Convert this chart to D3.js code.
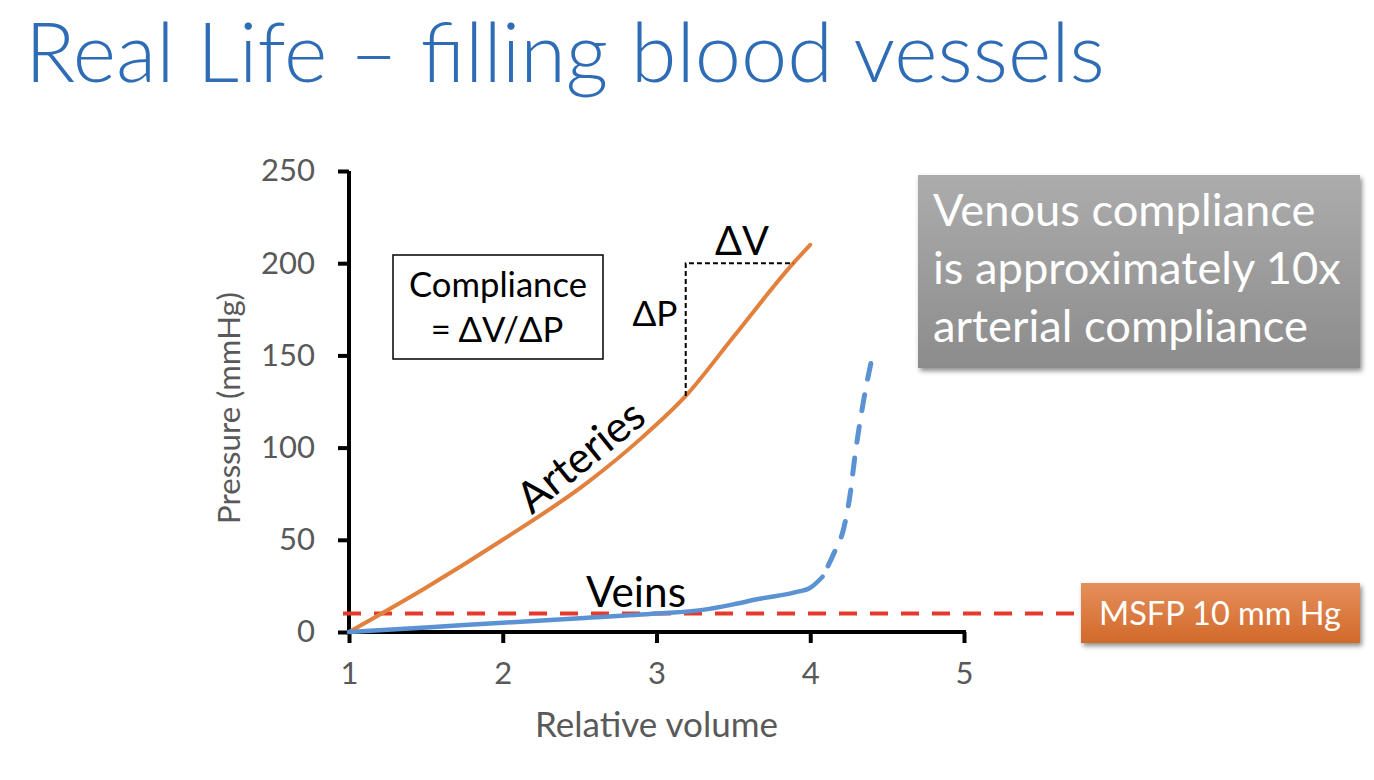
<!DOCTYPE html>
<html>
<head>
<meta charset="utf-8">
<script src="https://cdn.jsdelivr.net/npm/d3@7"></script>
<style>
  html, body { margin: 0; padding: 0; background: #fff; }
  svg { display: block; font-family: Lato, "Open Sans", sans-serif; }
</style>
</head>
<body>
<svg id="main" width="1374" height="780"></svg>
<script>
const width = 1374;
const height = 780;

// ---- data ----
const xTicks = [1, 2, 3, 4, 5];
const yTicks = [0, 50, 100, 150, 200, 250];

const arteries = [
    [1.0, 0], [1.5, 24], [2.0, 50], [2.55, 81], [2.9, 105],
    [3.19, 128], [3.5, 160], [3.89, 200], [4.0, 210]
];
const veinsSolid = [
    [1.0, 0], [1.5, 2.5], [2.0, 5], [2.5, 7.5], [3.0, 10], [3.3, 12],
    [3.5, 15], [3.67, 18], [3.9, 21.5], [4.0, 24], [4.08, 30]
];
const veinsDashed = [
    [4.08, 30], [4.15, 42], [4.22, 57], [4.26, 75], [4.29, 95],
    [4.32, 112], [4.35, 127], [4.4, 148]
];
const msfp = 10;
const deltaCorner = [3.19, 200]; // corner of the dV / dP triangle
const deltaLow = [3.19, 128];
const deltaHigh = [3.89, 200];

const position = { left: 349, top: 171, right: width - 964, bottom: height - 632 };

const svg = d3.select('#main');

// scale a text's font size so it spans the width it has on the slide
function fitWidth(sel, target) {
    const w = sel.node().getComputedTextLength();
    const fs = +sel.attr('font-size') * target / w;
    sel.attr('font-size', fs);
    return fs;
}

const defs = svg.append('defs');
const shadow = defs.append('filter').attr('id', 'shadow')
    .attr('x', '-10%').attr('y', '-10%').attr('width', '130%').attr('height', '140%');
shadow.append('feDropShadow')
    .attr('dx', 2).attr('dy', 3).attr('stdDeviation', 2.5)
    .attr('flood-color', '#000').attr('flood-opacity', 0.45);

const grayGrad = defs.append('linearGradient').attr('id', 'grayGrad')
    .attr('x1', 0).attr('y1', 0).attr('x2', 0).attr('y2', 1);
grayGrad.append('stop').attr('offset', '0%').attr('stop-color', '#acacac');
grayGrad.append('stop').attr('offset', '100%').attr('stop-color', '#8c8c8c');

const orangeGrad = defs.append('linearGradient').attr('id', 'orangeGrad')
    .attr('x1', 0).attr('y1', 0).attr('x2', 0).attr('y2', 1);
orangeGrad.append('stop').attr('offset', '0%').attr('stop-color', '#e58f5c');
orangeGrad.append('stop').attr('offset', '100%').attr('stop-color', '#d2692a');

// title
const title = svg.append('text')
    .text('Real Life – filling blood vessels')
    .attr('x', 25)
    .attr('y', 82)
    .attr('fill', '#2e6db5')
    .attr('font-weight', 300)
    .attr('font-size', 80);
fitWidth(title, 1080);

const xScale = d3.scaleLinear().domain([1, 5]).range([position.left, width - position.right]);
const yScale = d3.scaleLinear().domain([0, 250]).range([height - position.bottom, position.top]);

const xAxis = d3.axisBottom(xScale).tickValues(xTicks).tickSize(11).tickPadding(22).tickFormat(d3.format('d'));
const yAxis = d3.axisLeft(yScale).tickValues(yTicks).tickSize(11).tickPadding(23).tickFormat(d3.format('d'));

const gx = svg.append('g')
    .attr('transform', `translate(0, ${yScale(0)})`)
    .call(xAxis);
const gy = svg.append('g')
    .attr('transform', `translate(${xScale(1)}, 0)`)
    .call(yAxis);

[gx, gy].forEach(g => {
    g.select('.domain').attr('stroke', '#000').attr('stroke-width', 4);
    g.selectAll('.tick line').attr('stroke', '#000').attr('stroke-width', 4);
    g.selectAll('.tick text')
        .attr('fill', '#595959')
        .attr('font-size', 31)
        .attr('font-family', 'Lato, "Open Sans", sans-serif');
});
gx.selectAll('.tick text').attr('dy', '0.62em');
gx.select('.domain').attr('d', `M${xScale(1) - 2},0H${xScale(5) + 2}`);
gy.select('.domain').attr('d', `M0,${yScale(250)}V${yScale(0) + 2}`);

const yTitle = svg.append('text')
    .text('Pressure (mmHg)')
    .attr('text-anchor', 'middle')
    .attr('fill', '#595959')
    .attr('font-size', 30)
    .attr('transform', `translate(240, 408) rotate(-90)`);
fitWidth(yTitle, 232);

const xTitle = svg.append('text')
    .text('Relative volume')
    .attr('text-anchor', 'middle')
    .attr('fill', '#595959')
    .attr('font-size', 30)
    .attr('x', xScale(3))
    .attr('y', 737);
fitWidth(xTitle, 243);

// MSFP reference line
svg.append('line')
    .attr('x1', xScale(1) - 6)
    .attr('x2', 1074)
    .attr('y1', yScale(msfp))
    .attr('y2', yScale(msfp))
    .attr('stroke', '#e53a2b')
    .attr('stroke-width', 4)
    .attr('stroke-dasharray', '18 13');

const line = d3.line()
    .x(d => xScale(d[0]))
    .y(d => yScale(d[1]))
    .curve(d3.curveMonotoneX);

svg.append('path')
    .attr('d', line(arteries))
    .attr('fill', 'none')
    .attr('stroke', '#e2803d')
    .attr('stroke-width', 4)
    .attr('stroke-linecap', 'round');

svg.append('path')
    .attr('d', line(veinsSolid))
    .attr('fill', 'none')
    .attr('stroke', '#5b92d3')
    .attr('stroke-width', 4.5)
    .attr('stroke-linecap', 'round');

svg.append('path')
    .attr('d', line(veinsDashed))
    .attr('fill', 'none')
    .attr('stroke', '#5b92d3')
    .attr('stroke-width', 5)
    .attr('stroke-linecap', 'round')
    .attr('stroke-dasharray', '16 16')
    .attr('stroke-dashoffset', -12);

// delta triangle
svg.append('path')
    .attr('d', `M${xScale(deltaLow[0])},${yScale(deltaLow[1])}V${yScale(deltaCorner[1])}H${xScale(deltaHigh[0])}`)
    .attr('fill', 'none')
    .attr('stroke', '#000')
    .attr('stroke-width', 2)
    .attr('stroke-dasharray', '5 3');

const dV = svg.append('text')
    .text('ΔV')
    .attr('text-anchor', 'middle')
    .attr('font-size', 30)
    .attr('x', 742)
    .attr('y', 255);
fitWidth(dV, 54);

const dP = svg.append('text')
    .text('ΔP')
    .attr('text-anchor', 'middle')
    .attr('font-size', 30)
    .attr('x', 655)
    .attr('y', 326);
fitWidth(dP, 45);

// compliance box
svg.append('rect')
    .attr('x', 393).attr('y', 255)
    .attr('width', 210).attr('height', 104)
    .attr('fill', '#fff')
    .attr('stroke', '#000')
    .attr('stroke-width', 1.5);

const comp = svg.append('text')
    .text('Compliance')
    .attr('text-anchor', 'middle')
    .attr('font-size', 30)
    .attr('x', 498)
    .attr('y', 297);
const compSize = fitWidth(comp, 178);

svg.append('text')
    .text('= ΔV/ΔP')
    .attr('text-anchor', 'middle')
    .attr('font-size', compSize)
    .attr('x', 497)
    .attr('y', 342);

const art = svg.append('text')
    .text('Arteries')
    .attr('text-anchor', 'middle')
    .attr('font-size', 34)
    .attr('transform', `translate(590, 468) rotate(-39)`);
fitWidth(art, 150);

const veins = svg.append('text')
    .text('Veins')
    .attr('text-anchor', 'middle')
    .attr('font-size', 34)
    .attr('x', 636)
    .attr('y', 607);
fitWidth(veins, 100);

// gray callout
svg.append('rect')
    .attr('x', 918).attr('y', 175)
    .attr('width', 442).attr('height', 193)
    .attr('fill', 'url(#grayGrad)')
    .attr('filter', 'url(#shadow)');

const calloutLines = ['Venous compliance', 'is approximately 10x', 'arterial compliance'];
const callout = svg.append('g')
    .selectAll('text')
    .data(calloutLines)
    .join('text')
    .text(d => d)
    .attr('x', 933)
    .attr('y', (d, i) => 226 + i * 58)
    .attr('fill', '#fff')
    .attr('font-size', 40);
const calloutSize = fitWidth(d3.select(callout.nodes()[1]), 408);
callout.attr('font-size', calloutSize);

// MSFP label
svg.append('rect')
    .attr('x', 1081).attr('y', 583)
    .attr('width', 279).attr('height', 60)
    .attr('fill', 'url(#orangeGrad)')
    .attr('filter', 'url(#shadow)');

const msfpLabel = svg.append('text')
    .text('MSFP 10 mm Hg')
    .attr('text-anchor', 'middle')
    .attr('fill', '#fff')
    .attr('font-size', 30)
    .attr('x', 1220)
    .attr('y', 625);
fitWidth(msfpLabel, 242);
</script>
</body>
</html>
